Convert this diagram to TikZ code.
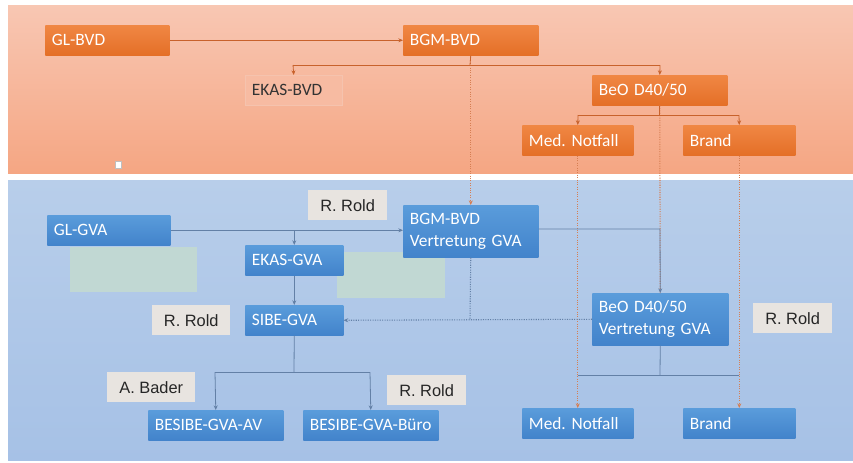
\documentclass[tikz,border=0pt]{standalone}
\usepackage{fontspec}
\setmainfont{Carlito}
\newfontfamily\lblfont{Liberation Sans}
\usetikzlibrary{arrows.meta,shadows}
\frenchspacing
\definecolor{oTop}{HTML}{F08744}
\definecolor{oBot}{HTML}{E46F27}
\definecolor{bTop}{HTML}{5A9CDB}
\definecolor{bBot}{HTML}{4283CB}
\definecolor{bgOTop}{HTML}{F8C7B3}
\definecolor{bgOBot}{HTML}{F5A683}
\definecolor{bgBTop}{HTML}{B8CEEA}
\definecolor{bgBBot}{HTML}{A6C1E6}
\definecolor{lblgray}{HTML}{E8E4E0}
\definecolor{peach}{HTML}{F7BBA2}
\definecolor{peachline}{HTML}{F5C3AE}
\definecolor{greenbox}{HTML}{C4DBD0}
\definecolor{oline}{HTML}{C8622C}
\definecolor{odot}{HTML}{D67E52}
\definecolor{bline}{HTML}{6380A6}
\tikzset{
  boxbase/.style={rectangle, anchor=north west, inner xsep=5pt, inner ysep=2pt, align=left,
    font=\fontsize{13}{16.5}\selectfont, minimum height=22.5pt},
  shad/.style={drop shadow={opacity=0.22, shadow xshift=0.8pt, shadow yshift=-0.8pt}},
  obox/.style={boxbase, text=white, top color=oTop, bottom color=oBot, shad, text width=#1},
  bbox/.style={boxbase, text=white, top color=bTop, bottom color=bBot, shad, text width=#1},
  pbox/.style={boxbase, text=black!80, fill=peach, draw=peachline, text width=#1},
  lbl/.style={rectangle, anchor=north west, fill=lblgray, text=black!85, align=center,
    font=\lblfont\fontsize{12.3}{14}\selectfont, minimum height=22.5pt, minimum width=#1, inner sep=0pt},
  gbox/.style={rectangle, anchor=north west, fill=greenbox, fill opacity=0.85, minimum width=#1, inner sep=0pt},
  tip/.style={-{Stealth[length=3.5pt,width=3pt]}},
  oconn/.style={draw=oline, line width=0.6pt},
  bconn/.style={draw=bline, line width=0.6pt},
  odots/.style={draw=odot, line width=0.8pt, densely dotted},
  bdots/.style={draw=bline, line width=0.8pt, densely dotted},
}
\begin{document}
\begin{tikzpicture}[x=0.75pt,y=-0.75pt]
\useasboundingbox (0,0) rectangle (853,462);
\fill[white] (0,0) rectangle (853,462);
\shade[top color=bgOTop, bottom color=bgOBot] (8,5) rectangle (853,173);
\shade[top color=bgBTop, bottom color=bgBBot] (8,180) rectangle (853,460);
% small cursor mark
\draw[gray!50, fill=white, line width=0.4pt] (115,161) rectangle (121,168);

% green note boxes
\node[gbox=95.25pt, minimum height=33.75pt] (note1) at (70,247) {};
\node[gbox=81pt, minimum height=34.5pt] (note2) at (337,252) {};

% orange nodes
\node[obox=83pt] (glbvd) at (45,25) {GL-BVD};
\node[obox=91.25pt] (bgmbvd) at (403,25) {BGM-BVD};
\node[pbox=62.75pt] (ekasbvd) at (245,75) {EKAS-BVD};
\node[obox=91.25pt] (beo) at (592,75) {BeO D40/50};
\node[obox=73.25pt] (medo) at (522,125) {Med. Notfall};
\node[obox=74pt] (brando) at (683,125) {Brand};

% blue nodes
\node[bbox=82.25pt] (glgva) at (47,215) {GL-GVA};
\node[bbox=91.25pt, minimum height=39pt] (bgmv) at (403,205) {BGM-BVD\\Vertretung GVA};
\node[bbox=63.5pt] (ekasgva) at (245,245) {EKAS-GVA};
\node[bbox=63.5pt] (sibe) at (245,305) {SIBE-GVA};
\node[bbox=92pt, minimum height=39pt] (beov) at (592,293) {BeO D40/50\\Vertretung GVA};
\node[bbox=91.25pt] (besav) at (148,410) {\mbox{BESIBE-GVA-AV}};
\node[bbox=91.25pt] (besbu) at (303,410) {\mbox{BESIBE-GVA-Büro}};
\node[bbox=73.25pt] (medb) at (522,408) {Med. Notfall};
\node[bbox=74pt] (brandb) at (683,408) {Brand};

% gray labels
\node[lbl=59pt] (rr1) at (308,190) {R. Rold};
\node[lbl=58.5pt] (rr2) at (152,305) {R. Rold};
\node[lbl=59pt] (rr3) at (753,303) {R. Rold};
\node[lbl=66pt] (ab) at (107,372) {A. Bader};
\node[lbl=59pt] (rr4) at (387,375) {R. Rold};

% coordinates for tree branches
\coordinate (t1) at (470,65);
\coordinate (t1l) at (293,65);
\coordinate (t1r) at (660,65);
\coordinate (t2l) at (578,115);
\coordinate (t2r) at (739,115);
\coordinate (b1) at (660,229);
\coordinate (d1) at (470,319);
\coordinate (s1) at (294,372);
\coordinate (s1l) at (215,372);
\coordinate (s1r) at (370,372);
\coordinate (v1) at (660,375);
\coordinate (v1l) at (578,375);
\coordinate (v1r) at (739,375);

% cross-region dotted connectors
\draw[odots, tip] (bgmbvd.south) -- (bgmv.north);
\draw[odots] (beo.south) -- (beov.north);
\draw[odots, tip] (medo.south) -- (medb.north);
\draw[odots, tip] (brando.south) -- (brandb.north);

% orange tree
\draw[oconn, tip] (glbvd.east) -- (glbvd.east -| bgmbvd.west);
\draw[oconn] (bgmbvd.south) -- (t1);
\draw[oconn] (t1l) -- (t1r);
\draw[oconn, tip] (t1l) -- (ekasbvd.north);
\draw[oconn, tip] (t1r) -- (beo.north);
\draw[oconn] (beo.south) -- (beo.south |- t2l);
\draw[oconn] (t2l) -- (t2r);
\draw[oconn, tip] (t2l) -- (medo.north);
\draw[oconn, tip] (t2r) -- (brando.north);

% blue tree
\draw[bconn, tip] (glgva.east) -- (glgva.east -| bgmv.west);
\draw[bconn, tip] (ekasgva.north |- glgva.east) -- (ekasgva.north);
\draw[bconn, tip] (ekasgva.south) -- (sibe.north);
\draw[bconn, tip] (bgmv.east |- b1) -- (b1) -- (beov.north);
\draw[bdots, tip] (beov.west) -- (sibe.east);
\draw[bdots] (bgmv.south) -- (d1);
\draw[bconn] (sibe.south) -- (s1);
\draw[bconn] (s1l) -- (s1r);
\draw[bconn, tip] (s1l) -- (besav.north);
\draw[bconn, tip] (s1r) -- (besbu.north);
\draw[bconn] (beov.south) -- (v1);
\draw[bconn] (v1l) -- (v1r);
\end{tikzpicture}
\end{document}
